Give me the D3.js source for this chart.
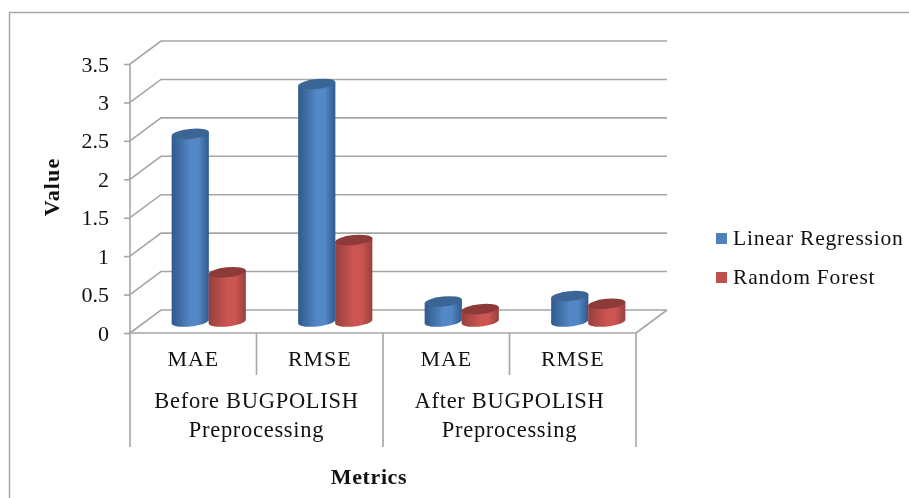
<!DOCTYPE html>
<html>
<head>
<meta charset="utf-8">
<script src="https://cdn.jsdelivr.net/npm/d3@7"></script>
<style>
    html, body { margin: 0; padding: 0; background: #fff; }
    svg { display: block; filter: blur(0.35px); }
    text { font-family: "Liberation Serif", serif; fill: #111; }
</style>
</head>
<body>
<svg id="chart" width="909" height="498"></svg>
<script>
// chart values
const categories = ["MAE", "RMSE", "MAE ", "RMSE "];
const categoryLabels = ["MAE", "RMSE", "MAE", "RMSE"];
const groups = [
    ["Before BUGPOLISH", "Preprocessing"],
    ["After BUGPOLISH", "Preprocessing"],
];
const seriesNames = ["Linear Regression", "Random Forest"];
const linearRegression = [2.44, 3.09, 0.26, 0.33];
const randomForest = [0.64, 1.06, 0.16, 0.23];
const yTicks = [0, 0.5, 1, 1.5, 2, 2.5, 3, 3.5];

const seriesValues = [linearRegression, randomForest];
const seriesColors = [
    { edge: "#2f5a8c", mid: "#5487c6", top: "#3a6595" },
    { edge: "#97403d", mid: "#cb5551", top: "#8e3a38" },
];

const svg = d3.select("#chart");
const grid = "#a6a6a6";

// the 3d box: front face plus the shift to the back wall
const depthX = 31;
const depthY = -23;

const x = d3.scaleBand().domain(categories).range([130, 636]);
const y = d3.scaleLinear().domain([0, 3.5]).range([333, 64]);
const inner = d3.scalePoint().domain([0, 1]).range([-18.5, 18.5]);

// outer border of the chart area
svg.append("path")
    .attr("d", "M9.5,498V12.5H909")
    .attr("fill", "none")
    .attr("stroke", "#a8a8a8")
    .attr("stroke-width", 1.5);

// back wall lines and the diagonals on the side wall
const walls = svg.append("g")
    .attr("stroke", grid)
    .attr("stroke-width", 1.6)
    .attr("fill", "none");

walls.selectAll("path.grid")
    .data(yTicks)
    .join("path")
    .attr("class", "grid")
    .attr("d", d => `M130,${y(d)}L${130 + depthX},${y(d) + depthY}H${636 + depthX}`);

// floor
walls.append("path")
    .attr("d", `M636,${y(0)}L${636 + depthX},${y(0) + depthY}`);

// y axis with labels
const yAxis = d3.axisLeft(y)
    .tickValues(yTicks)
    .tickFormat(d => String(d))
    .tickSize(6)
    .tickPadding(15);

const yG = svg.append("g")
    .attr("transform", "translate(130,0)")
    .call(yAxis);
yG.selectAll("line, path").attr("stroke", grid).attr("stroke-width", 1.6);
yG.select(".domain").attr("d", `M0,${y(3.5)}V${y(0)}`);
yG.selectAll("text")
    .style("font-family", '"Liberation Serif", serif')
    .style("font-size", "22px")
    .attr("fill", "#111");

// x axis, inner category labels
const xAxis = d3.axisBottom(x)
    .tickFormat((d, i) => categoryLabels[i])
    .tickSize(0)
    .tickPadding(17);

const xG = svg.append("g")
    .attr("transform", `translate(0,${y(0)})`)
    .call(xAxis);
xG.select(".domain").attr("d", "M130,0H636").attr("stroke", grid).attr("stroke-width", 1.6);
xG.selectAll("text")
    .style("font-family", '"Liberation Serif", serif')
    .style("font-size", "22px")
    .style("letter-spacing", "0.9px")
    .attr("fill", "#111");

// separators under the axis
const edges = categories.map(c => x(c)).concat([x.range()[1]]);
svg.append("g")
    .selectAll("line")
    .data(edges)
    .join("line")
    .attr("x1", d => d)
    .attr("x2", d => d)
    .attr("y1", y(0))
    .attr("y2", (d, i) => (i % 2 === 0 ? 447 : 375))
    .attr("stroke", grid)
    .attr("stroke-width", 1.6);

// group labels
const groupText = svg.append("g")
    .selectAll("text")
    .data(groups)
    .join("text")
    .attr("text-anchor", "middle")
    .attr("font-size", 22.5)
    .attr("letter-spacing", 0.7)
    .attr("x", (d, i) => x(categories[i * 2]) + x.bandwidth())
    .attr("y", 408);
groupText.selectAll("tspan")
    .data(d => d)
    .join("tspan")
    .attr("x", function () { return d3.select(this.parentNode).attr("x"); })
    .attr("y", (d, i) => 408 + i * 29)
    .text(d => d);

// gradients for the cylinder sides
const defs = svg.append("defs");
seriesColors.forEach((c, i) => {
    const g = defs.append("linearGradient").attr("id", `cyl-${i}`);
    g.selectAll("stop")
        .data([[0, c.edge], [0.5, c.mid], [0.72, c.mid], [1, c.edge]])
        .join("stop")
        .attr("offset", d => d[0])
        .attr("stop-color", d => d[1]);
});

// cylinders, the red one overlaps the blue one
const radiusX = 18.7;
const radiusY = 5;
const tilt = -6;
const tiltRad = tilt * Math.PI / 180;
const base = y(0) + depthY / 2;

// point on the tilted ellipse of a cylinder end
function rim(cx, cy, t) {
    const px = radiusX * Math.cos(t);
    const py = radiusY * Math.sin(t);
    return [cx + px * Math.cos(tiltRad) - py * Math.sin(tiltRad),
            cy + px * Math.sin(tiltRad) + py * Math.cos(tiltRad)];
}

function sidePath(cx, topY) {
    const p = d3.path();
    const start = rim(cx, topY, Math.PI);
    p.moveTo(start[0], start[1]);
    // down the left side and along the bottom rim
    d3.range(0, 25).forEach(k => {
        const pt = rim(cx, base, Math.PI - k * Math.PI / 24);
        p.lineTo(pt[0], pt[1]);
    });
    const end = rim(cx, topY, 0);
    p.lineTo(end[0], end[1]);
    p.closePath();
    return p.toString();
}

seriesValues.forEach((values, s) => {
    const g = svg.append("g");
    const centerX = i => x(categories[i]) + x.bandwidth() / 2 + depthX / 2 + inner(s);
    const topY = d => y(d) + depthY / 2;

    g.selectAll("path.side")
        .data(values)
        .join("path")
        .attr("class", "side")
        .attr("fill", `url(#cyl-${s})`)
        .attr("d", (d, i) => sidePath(centerX(i), topY(d)));

    g.selectAll("ellipse")
        .data(values)
        .join("ellipse")
        .attr("fill", seriesColors[s].top)
        .attr("rx", radiusX)
        .attr("ry", radiusY)
        .attr("transform", (d, i) => `translate(${centerX(i)},${topY(d)}) rotate(${tilt})`);
});

// axis titles
svg.append("text")
    .attr("transform", "translate(59,187) rotate(-90)")
    .attr("text-anchor", "middle")
    .attr("font-size", 22)
    .attr("letter-spacing", 1.1)
    .attr("font-weight", "bold")
    .text("Value");

svg.append("text")
    .attr("x", 369)
    .attr("y", 484)
    .attr("text-anchor", "middle")
    .attr("font-size", 22)
    .attr("letter-spacing", 0.6)
    .attr("font-weight", "bold")
    .text("Metrics");

// legend
const legend = svg.append("g")
    .selectAll("g")
    .data(seriesNames)
    .join("g")
    .attr("transform", (d, i) => `translate(716,${233 + i * 39})`);

legend.append("rect")
    .attr("width", 11)
    .attr("height", 11)
    .attr("fill", (d, i) => (i === 0 ? "#4f81bd" : "#c0504d"));

legend.append("text")
    .attr("x", 17)
    .attr("y", 12)
    .attr("font-size", 21.5)
    .attr("letter-spacing", 0.8)
    .text(d => d);
</script>
</body>
</html>
